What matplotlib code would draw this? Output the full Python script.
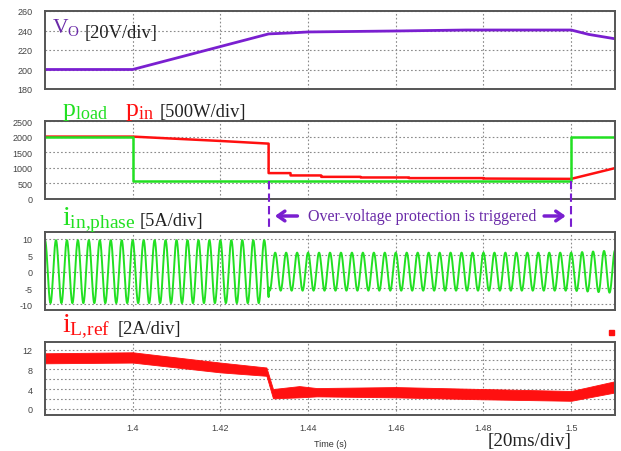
import numpy as np
import matplotlib.pyplot as plt
from matplotlib.lines import Line2D
from matplotlib.patches import Rectangle
from matplotlib.transforms import blended_transform_factory

plt.rcParams['font.family'] = ['Liberation Serif', 'DejaVu Serif']
plt.rcParams['mathtext.fontset'] = 'custom'
plt.rcParams['mathtext.rm'] = 'Liberation Serif'
plt.rcParams['mathtext.it'] = 'Liberation Serif:italic'
plt.rcParams['axes.unicode_minus'] = False

# output voltage Vo [V]
vo_t = [1.38, 1.40, 1.431, 1.436, 1.44, 1.45, 1.46, 1.476, 1.50, 1.504, 1.51]
vo_v = [200, 200, 236.5, 237.5, 238.5, 239.0, 239.5, 240.5, 240.5, 236.0, 231.5]

# load power and input power [W]
pload_t = [1.38, 1.40, 1.40, 1.50, 1.50, 1.51]
pload_w = [2000, 2000, 590, 590, 2000, 2000]
pin_t = [1.38, 1.40, 1.42, 1.431, 1.431, 1.436, 1.436, 1.443, 1.443, 1.452, 1.452,
         1.463, 1.463, 1.48, 1.48, 1.50, 1.51]
pin_w = [2000, 2000, 1860, 1775, 830, 830, 755, 755, 710, 710, 690,
         690, 670, 670, 655, 645, 990]

# input phase current: 400 Hz, peak amplitude per interval [A]
phase_freq = 400.0
phase_amp_t = [1.38, 1.431, 1.431, 1.50, 1.51]
phase_amp_a = [9.6, 9.6, 5.8, 5.8, 6.5]

# inductor current reference, upper / lower edge of the ripple band [A]
il_t = [1.38, 1.40, 1.42, 1.4305, 1.432, 1.438, 1.442, 1.46, 1.48, 1.50, 1.51]
il_hi = [11.3, 11.5, 9.4, 8.4, 4.0, 4.6, 4.2, 4.4, 4.0, 3.6, 5.6]
il_lo = [9.25, 9.4, 7.4, 6.7, 2.1, 2.3, 2.5, 2.3, 1.9, 1.6, 3.3]

x_ticks = [1.40, 1.42, 1.44, 1.46, 1.48, 1.50]
x_labels = ['1.4', '1.42', '1.44', '1.46', '1.48', '1.5']
protect_on, protect_off = 1.431, 1.50

PURPLE = '#7a1fd0'
TXT_PURPLE = '#6a2aa8'
GREEN = '#22e022'
RED = '#ff1010'

W, H = 621, 452


def fpos(x, y):
    return x / W, 1 - y / H


fig = plt.figure(figsize=(6.21, 4.52), dpi=100)
boxes = [(45, 12, 615, 90), (45, 122, 615, 200), (45, 233, 615, 311), (45, 343, 615, 416)]
axes = []
for l, t, r, b in boxes:
    ax = fig.add_axes([l / W, 1 - b / H, (r - l) / W, (b - t) / H])
    axes.append(ax)


def style(ax, yticks, ylim, bottom=False):
    ax.set_xlim(1.38, 1.51)
    ax.set_ylim(*ylim)
    ax.set_yticks(yticks)
    ax.set_xticks(x_ticks)
    ax.set_xticklabels(x_labels)
    ax.tick_params(which='both', length=0, pad=9, labelsize=6.5, labelcolor='#444',
                   labelfontfamily='Liberation Sans', labelbottom=bottom)
    ax.tick_params(axis='x', pad=6)
    ax.grid(True, which='both', color='#8a8a8a', linestyle=(0, (1.5, 2.0)), linewidth=0.8)
    ax.set_axisbelow(True)
    for s in ax.spines.values():
        s.set_color('#555555')
        s.set_linewidth(1.4)


ax1, ax2, ax3, ax4 = axes

ax1.plot(vo_t, vo_v, color=PURPLE, lw=2)
style(ax1, [180, 200, 220, 240, 260], (180, 260))

ax2.plot(pin_t, pin_w, color=RED, lw=1.8)
ax2.plot(pload_t, pload_w, color=GREEN, lw=1.8)
style(ax2, [0, 500, 1000, 1500, 2000, 2500], (0, 2500))

t = np.linspace(1.38, 1.51, 8000)
amp = np.interp(t, phase_amp_t, phase_amp_a)
ax3.plot(t, amp * np.cos(2 * np.pi * phase_freq * (t - 1.38)), color=GREEN, lw=1.4)
style(ax3, [-10, -5, 0, 5, 10], (-11.7, 12.1))

ax4.fill_between(il_t, il_lo, il_hi, color=RED, lw=0.6, edgecolor=RED)
style(ax4, [0, 4, 8, 12], (-1.3, 13.6), bottom=True)
ax4.set_yticks([2, 6, 10], minor=True)
ax4.set_xlabel('Time (s)', fontsize=6.5, family='Liberation Sans', color='#333', labelpad=5)

# channel labels
fig.text(*fpos(52, 33), r'$\mathrm{V_O}$', fontsize=15.5, color=TXT_PURPLE)
fig.text(*fpos(85, 38), '[20V/div]', fontsize=13.3, color='#222')
fig.text(*fpos(62, 116), r'$\mathrm{p_{load}}$', fontsize=18.5, color=GREEN)
fig.text(*fpos(125, 116), r'$\mathrm{p_{in}}$', fontsize=18.5, color=RED)
fig.text(*fpos(160, 117), '[500W/div]', fontsize=13.3, color='#222')
fig.text(*fpos(62, 225), r'$\mathrm{i_{in{,}phase}}$', fontsize=20, color=GREEN)
fig.text(*fpos(140, 226), '[5A/div]', fontsize=13.3, color='#222')
fig.text(*fpos(62, 332), r'$\mathrm{i_{L{,}ref}}$', fontsize=20, color=RED)
fig.text(*fpos(118, 334), '[2A/div]', fontsize=13.3, color='#222')
fig.text(*fpos(488, 446), '[20ms/div]', fontsize=13.8, color='#222')

# over-voltage protection markers
tr = blended_transform_factory(ax2.transData, fig.transFigure)
for xm in (protect_on, protect_off):
    fig.add_artist(Line2D([xm, xm], [1 - 182 / H, 1 - 228 / H], transform=tr,
                          color=PURPLE, lw=1.5, ls=(0, (4, 2))))
arrow_y = 1 - 217 / H
ax2.annotate('', xy=(protect_on + 0.0008, arrow_y), xycoords=tr,
             xytext=(protect_on + 0.0072, arrow_y), textcoords=tr, annotation_clip=False,
             arrowprops=dict(arrowstyle='->,head_length=0.5,head_width=0.35', color=PURPLE, lw=2.5))
ax2.annotate('', xy=(protect_off - 0.0006, arrow_y), xycoords=tr,
             xytext=(protect_off - 0.0068, arrow_y), textcoords=tr, annotation_clip=False,
             arrowprops=dict(arrowstyle='->,head_length=0.5,head_width=0.35', color=PURPLE, lw=2.5))
fig.text(*fpos(422, 221), 'Over-voltage protection is triggered', fontsize=11.5,
         color=TXT_PURPLE, ha='center')

fig.add_artist(Rectangle(fpos(609, 336), 5 / W, 5 / H, color=RED, transform=fig.transFigure))

fig.savefig('out.png', dpi=100)
